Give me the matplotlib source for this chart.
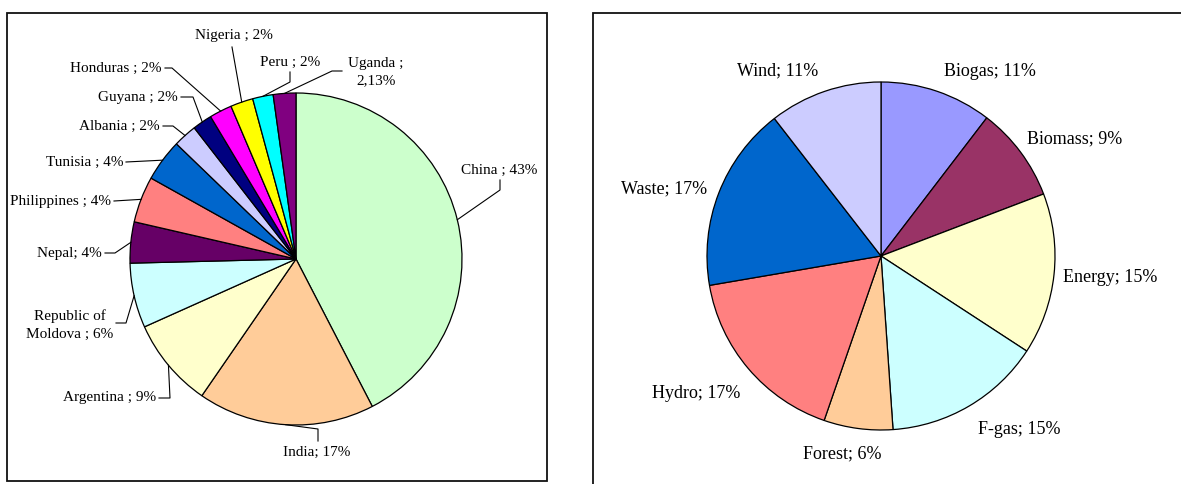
import matplotlib
matplotlib.use("Agg")
import matplotlib.pyplot as plt
from matplotlib.patches import Rectangle
import numpy as np

# ---------------- data ----------------
countries = ["China", "India", "Argentina", "Republic of Moldova", "Nepal",
             "Philippines", "Tunisia", "Albania", "Guyana", "Honduras",
             "Nigeria", "Peru", "Uganda"]
country_share = [42.4, 17.2, 8.7, 6.3, 4.0, 4.5, 4.1, 2.3, 1.9, 2.2, 2.2, 2.0, 2.2]
country_labels = ["China ; 43%", "India; 17%", "Argentina ; 9%",
                  "Republic of\nMoldova ; 6%", "Nepal; 4%", "Philippines ; 4%",
                  "Tunisia ; 4%", "Albania ; 2%", "Guyana ; 2%", "Honduras ; 2%",
                  "Nigeria ; 2%", "Peru ; 2%", "Uganda ;\n2,13%"]
country_colors = ["#CCFFCC", "#FFCC99", "#FFFFCC", "#CCFFFF", "#660066",
                  "#FF8080", "#0066CC", "#CCCCFF", "#000080", "#FF00FF",
                  "#FFFF00", "#00FFFF", "#800080"]

sectors = ["Biogas", "Biomass", "Energy", "F-gas", "Forest", "Hydro", "Waste", "Wind"]
sector_share = [10.4, 8.8, 15.0, 14.7, 6.4, 17.0, 17.2, 10.5]
sector_labels = ["Biogas; 11%", "Biomass; 9%", "Energy; 15%", "F-gas; 15%",
                 "Forest; 6%", "Hydro; 17%", "Waste; 17%", "Wind; 11%"]
sector_colors = ["#9999FF", "#993366", "#FFFFCC", "#CCFFFF", "#FFCC99",
                 "#FF8080", "#0066CC", "#CCCCFF"]

# ---------------- layout (pixels) ----------------
W, H = 1181, 484
def P(x, y):
    return (x, H - y)

# left labels: text position, alignment, elbow points of leader
left_layout = [
    ((499, 170), "center", [(500, 190), (500, 180)]),
    ((317, 452), "center", [(318, 429), (318, 441)]),
    ((156, 398), "right", [(170, 398), (159, 398)]),
    ((70, 325), "center", [(126, 323), (116, 323)]),
    ((102, 253), "right", [(115, 253), (105, 253)]),
    ((111, 201), "right", [(114, 201)]),
    ((123, 162), "right", [(126, 162)]),
    ((160, 126), "right", [(173, 126), (163, 126)]),
    ((178, 97), "right", [(193, 97), (181, 97)]),
    ((162, 68), "right", [(172, 68), (165, 68)]),
    ((234, 36), "center", [(232, 47)]),
    ((290, 62), "center", [(290, 82), (290, 72)]),
    ((376, 72), "center", [(332, 71), (342, 71)]),
]
right_text_pos = [(990, 71), (1075, 139), (1110, 278), (1019, 429),
                  (842, 454), (696, 393), (664, 189), (778, 71)]

FONT = "Liberation Serif"

fig = plt.figure(figsize=(W / 100, H / 100), dpi=100)
ax = fig.add_axes([0, 0, 1, 1])

# boxes
ax.add_patch(Rectangle(P(7, 481), 540, 468, fill=False, edgecolor="#111111", lw=1.3, zorder=0))
ax.add_patch(Rectangle(P(593, 490), 600, 477, fill=False, edgecolor="#111111", lw=1.3, zorder=0))

# left pie
lc, lr = P(296, 259), 166
wl, _ = ax.pie(country_share, colors=country_colors, startangle=90, counterclock=False,
               center=lc, radius=lr, frame=True,
               wedgeprops=dict(edgecolor="black", linewidth=0.9))
for w, lab, (tpos, ha, elbows) in zip(wl, country_labels, left_layout):
    mid = np.deg2rad((w.theta1 + w.theta2) / 2)
    ex, ey = lc[0] + lr * np.cos(mid), lc[1] + lr * np.sin(mid)
    pts = [(ex, ey)] + [P(*e) for e in elbows]
    xs, ys = zip(*pts)
    ax.plot(xs, ys, color="black", lw=0.8, zorder=3)
    ax.text(*P(*tpos), lab, ha=ha, va="center", fontsize=11, family=FONT,
            linespacing=1.5, multialignment="center")

# right pie
rc, rr = P(881, 256), 174
wr, _ = ax.pie(sector_share, colors=sector_colors, startangle=90, counterclock=False,
               center=rc, radius=rr, frame=True,
               wedgeprops=dict(edgecolor="black", linewidth=0.9))
for lab, tpos in zip(sector_labels, right_text_pos):
    ax.text(*P(*tpos), lab, ha="center", va="center", fontsize=13, family=FONT)

ax.set_xlim(0, W)
ax.set_ylim(0, H)
ax.set_aspect("equal")
ax.axis("off")
fig.savefig("out.png", dpi=100)
